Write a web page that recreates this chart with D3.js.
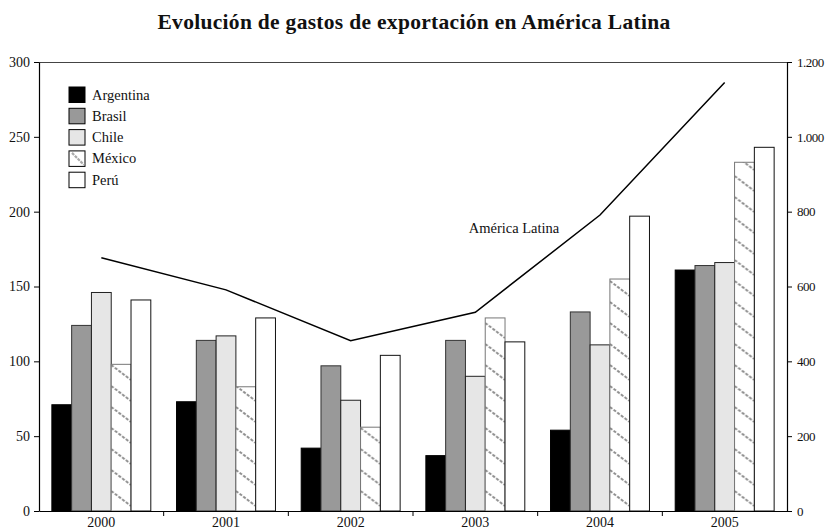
<!DOCTYPE html>
<html>
<head>
<meta charset="utf-8">
<script src="https://cdn.jsdelivr.net/npm/d3@7"></script>
<style>
  html, body { margin: 0; padding: 0; background: #fff; }
  svg { display: block; }
  text { font-family: "Liberation Serif", "DejaVu Serif", serif; fill: #111; }
</style>
</head>
<body>
<svg id="chart" width="826" height="532"></svg>
<script>
const title = "Evolución de gastos de exportación en América Latina";
const years = ["2000", "2001", "2002", "2003", "2004", "2005"];
const seriesNames = ["Argentina", "Brasil", "Chile", "México", "Perú"];
const argentina = [71, 73, 42, 37, 54, 161];
const brasil = [124, 114, 97, 114, 133, 164];
const chile = [146, 117, 74, 90, 111, 166];
const mexico = [98, 83, 56, 129, 155, 233];
const peru = [141, 129, 104, 113, 197, 243];
const americaLatina = [677, 591, 455, 531, 791, 1145];
const leftTicks = [0, 50, 100, 150, 200, 250, 300];
const rightTicks = [0, 200, 400, 600, 800, 1000, 1200];
const lineLabel = "América Latina";

const seriesValues = [argentina, brasil, chile, mexico, peru];
const fills = ["#000000", "#999999", "#e6e6e6", "url(#mexPat)", "#ffffff"];
const strokes = ["#000", "#333", "#222", "#777", "#111"];

const svg = d3.select("#chart");
const L = 39, R = 787, T = 62, B = 511;

const x0 = d3.scaleBand().domain(years).range([L, R]).padding(0);
const x1 = d3.scaleBand().domain(seriesNames).range([0, x0.bandwidth()])
  .paddingInner(0).paddingOuter(0.65);
const yL = d3.scaleLinear().domain([0, 300]).range([B, T]);
const yR = d3.scaleLinear().domain([0, 1200]).range([B, T]);

// pattern for México (user space of each group, which is translated by x0)
const defs = svg.append("defs");
const bw = x1.bandwidth();
const pat = defs.append("pattern")
  .attr("id", "mexPat")
  .attr("patternUnits", "userSpaceOnUse")
  .attr("x", x1("México"))
  .attr("y", B)
  .attr("width", x0.step())
  .attr("height", 21);
pat.append("rect").attr("width", x0.step()).attr("height", 21).attr("fill", "#fff");
pat.append("line")
  .attr("x1", 0).attr("y1", 1).attr("x2", bw).attr("y2", 16)
  .attr("stroke", "#8c8c8c").attr("stroke-width", 1.9).attr("stroke-dasharray", "3,1.6");

// title
svg.append("text")
  .attr("x", 414).attr("y", 29)
  .attr("text-anchor", "middle")
  .style("font-weight", "bold")
  .style("font-size", "21.5px")
  .style("letter-spacing", "0.3px")
  .text(title);

// frame top line
svg.append("line")
  .attr("x1", L).attr("x2", R).attr("y1", T + 0.5).attr("y2", T + 0.5)
  .attr("stroke", "#444").attr("stroke-width", 1.2);

// bars
const groups = svg.append("g").selectAll("g")
  .data(years)
  .join("g")
  .attr("transform", d => `translate(${x0(d)},0)`);

groups.selectAll("rect")
  .data((d, i) => seriesNames.map((s, k) => ({ s, k, v: seriesValues[k][i] })))
  .join("rect")
  .attr("x", d => x1(d.s))
  .attr("y", d => yL(d.v))
  .attr("width", bw)
  .attr("height", d => B - yL(d.v))
  .attr("fill", d => fills[d.k])
  .attr("stroke", d => strokes[d.k])
  .attr("stroke-width", 1);

// line
const line = d3.line()
  .x((d, i) => x0(years[i]) + x0.bandwidth() / 2)
  .y(d => yR(d));
svg.append("path")
  .datum(americaLatina)
  .attr("d", line)
  .attr("fill", "none")
  .attr("stroke", "#000")
  .attr("stroke-width", 1.5);

svg.append("text")
  .attr("x", 514).attr("y", 233)
  .attr("text-anchor", "middle")
  .style("font-size", "14.5px")
  .text(lineLabel);

// axes
const axL = svg.append("g")
  .attr("transform", `translate(${L},0)`)
  .call(d3.axisLeft(yL).tickValues(leftTicks).tickSize(5).tickPadding(4).tickSizeOuter(0));
const axR = svg.append("g")
  .attr("transform", `translate(${R},0)`)
  .call(d3.axisRight(yR).tickValues(rightTicks).tickSize(5).tickPadding(5).tickSizeOuter(0)
    .tickFormat(d => d3.format(",")(d).replace(/,/g, ".")));
const axB = svg.append("g")
  .attr("transform", `translate(0,${B})`)
  .call(d3.axisBottom(x0).tickSize(0).tickPadding(6).tickSizeOuter(0));

// bottom ticks at band boundaries
svg.append("g").selectAll("line")
  .data(years.slice(1))
  .join("line")
  .attr("x1", d => x0(d)).attr("x2", d => x0(d))
  .attr("y1", B).attr("y2", B + 5)
  .attr("stroke", "#000");

[axL, axR, axB].forEach(a => {
  a.selectAll("path").attr("stroke", "#000").attr("stroke-width", 1.2);
  a.selectAll("line").attr("stroke", "#000");
  a.selectAll("text")
    .style("font-family", '"Liberation Serif", serif')
    .style("font-size", "14px")
    .attr("fill", "#111");
});
axR.selectAll("text")
  .style("font-size", "13px")
  .style("letter-spacing", "-0.5px");

// legend
const lg = svg.append("g").attr("transform", "translate(69,87)");
const items = lg.selectAll("g")
  .data(seriesNames)
  .join("g")
  .attr("transform", (d, i) => `translate(0,${i * 21.3})`);
items.append("rect")
  .attr("width", 16).attr("height", 15.5)
  .attr("fill", (d, i) => i === 3 ? "#fff" : fills[i])
  .attr("stroke", "#000").attr("stroke-width", 1);
items.filter((d, i) => i === 3).append("line")
  .attr("x1", 3).attr("y1", 2).attr("x2", 15).attr("y2", 14)
  .attr("stroke", "#aaa").attr("stroke-width", 2.2).attr("stroke-dasharray", "3,1");
items.append("text")
  .attr("x", 23).attr("y", 12.5)
  .style("font-size", "14.5px")
  .text(d => d);
</script>
</body>
</html>
